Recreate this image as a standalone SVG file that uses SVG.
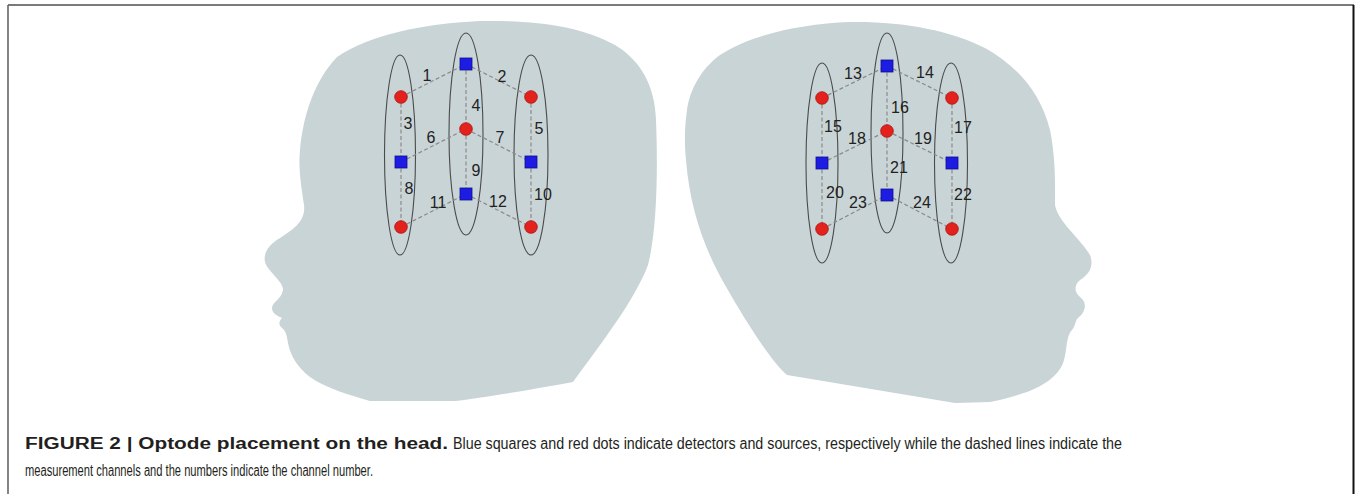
<svg xmlns="http://www.w3.org/2000/svg" width="1357" height="494" viewBox="0 0 1357 494">
  <style>
    .head { fill: #c9d4d6; stroke: none; }
    .band { fill: none; stroke: #4a4a4a; stroke-width: 1.1; }
    .ch { stroke: #8a8a8a; stroke-width: 1.2; stroke-dasharray: 4 2.5; fill: none; }
    .src { fill: #e3221e; stroke: #a81410; stroke-width: 0.8; }
    .det { fill: #1c1ce3; stroke: #10108c; stroke-width: 0.8; }
    .num { font-family: "Liberation Sans", Arial, sans-serif; font-size: 16px; fill: #222; text-anchor: middle; }
    .cap { font-family: "Liberation Sans", Arial, sans-serif; font-size: 16px; fill: #231f20; }
  </style>
  <defs>
    <circle id="s" r="6.3" class="src"/>
    <rect id="d" x="-6" y="-6" width="12" height="12" class="det"/>
  </defs>

  <!-- frame -->
  <g id="frame">
    <line x1="8" y1="5" x2="1354" y2="5" stroke="#7a7a7a" stroke-width="2"/>
    <line x1="8" y1="5" x2="8" y2="494" stroke="#666" stroke-width="1.6"/>
    <line x1="1353.5" y1="5" x2="1353.5" y2="494" stroke="#111" stroke-width="2"/>
  </g>

  <!-- head silhouettes -->
  <g id="head-left">
    <path class="head" d="M 370,401
      C 350,395 325,388 310,377
      C 298,368 290,355 288,343
      C 287,336 286,331 282,328
      C 278,325 279,321 282,318
      C 278,316 272,314 272,308
      C 272,302 281,300 283,290
      C 284,282 268,272 265,262
      C 263,252 270,244 280,238
      C 292,230 306,222 304,205
      C 302,190 298,170 300,150
      C 303,115 315,80 337,57
      C 370,35 420,24 480,21
      C 530,20 580,25 615,45
      C 640,60 655,85 656,120
      C 658,170 657,230 648,265
      C 635,300 600,345 573,382
      C 530,390 480,398 455,401
      Z"/>
  </g>
  <g id="head-right">
    <path class="head" d="M 687,110
      C 690,90 700,70 720,55
      C 750,35 800,24 850,22
      C 900,21 950,30 985,48
      C 1015,65 1040,90 1050,130
      C 1056,160 1055,185 1055,205
      C 1058,222 1080,238 1090,255
      C 1094,265 1090,274 1080,280
      C 1074,285 1074,292 1080,297
      C 1088,303 1085,312 1079,317
      C 1075,320 1076,325 1072,330
      C 1066,336 1067,350 1064,360
      C 1060,375 1045,385 1027,392
      C 1012,397 1000,400 990,402
      L 955,403
      L 787,375
      C 770,360 745,320 725,285
      C 705,250 690,210 686,160
      C 684,140 685,125 687,110 Z"/>
  </g>

  <!-- optode strips -->
  <g id="strips">
    <ellipse class="band" cx="400" cy="155" rx="15.5" ry="100"/>
    <ellipse class="band" cx="466" cy="134" rx="17" ry="101"/>
    <ellipse class="band" cx="531" cy="155" rx="17" ry="100"/>
    <ellipse class="band" cx="822" cy="163" rx="16" ry="100"/>
    <ellipse class="band" cx="887" cy="133" rx="16" ry="100"/>
    <ellipse class="band" cx="951" cy="163" rx="16.5" ry="100"/>
  </g>

  <!-- measurement channels -->
  <g id="connectors">
    <line class="ch" x1="401" y1="97" x2="466" y2="64"/>
    <line class="ch" x1="466" y1="64" x2="531" y2="97"/>
    <line class="ch" x1="401" y1="97" x2="401" y2="162"/>
    <line class="ch" x1="466" y1="64" x2="466" y2="129"/>
    <line class="ch" x1="531" y1="97" x2="531" y2="162"/>
    <line class="ch" x1="401" y1="162" x2="466" y2="129"/>
    <line class="ch" x1="466" y1="129" x2="531" y2="162"/>
    <line class="ch" x1="401" y1="162" x2="401" y2="227"/>
    <line class="ch" x1="466" y1="129" x2="466" y2="194"/>
    <line class="ch" x1="531" y1="162" x2="531" y2="227"/>
    <line class="ch" x1="401" y1="227" x2="466" y2="194"/>
    <line class="ch" x1="466" y1="194" x2="531" y2="227"/>

    <line class="ch" x1="822" y1="98" x2="887" y2="66"/>
    <line class="ch" x1="887" y1="66" x2="952" y2="98"/>
    <line class="ch" x1="822" y1="98" x2="822" y2="163"/>
    <line class="ch" x1="887" y1="66" x2="887" y2="131"/>
    <line class="ch" x1="952" y1="98" x2="952" y2="163"/>
    <line class="ch" x1="822" y1="163" x2="887" y2="131"/>
    <line class="ch" x1="887" y1="131" x2="952" y2="163"/>
    <line class="ch" x1="822" y1="163" x2="822" y2="229"/>
    <line class="ch" x1="887" y1="131" x2="887" y2="195"/>
    <line class="ch" x1="952" y1="163" x2="952" y2="229"/>
    <line class="ch" x1="822" y1="229" x2="887" y2="195"/>
    <line class="ch" x1="887" y1="195" x2="952" y2="229"/>
  </g>

  <!-- sources (red) and detectors (blue), left head -->
  <g id="L-S1"><use href="#s" x="401" y="97"/></g>
  <g id="L-S2"><use href="#s" x="466" y="129"/></g>
  <g id="L-S3"><use href="#s" x="531" y="97"/></g>
  <g id="L-S4"><use href="#s" x="401" y="227"/></g>
  <g id="L-S5"><use href="#s" x="531" y="227"/></g>
  <g id="L-D1"><use href="#d" x="466" y="64"/></g>
  <g id="L-D2"><use href="#d" x="401" y="162"/></g>
  <g id="L-D3"><use href="#d" x="531" y="162"/></g>
  <g id="L-D4"><use href="#d" x="466" y="194"/></g>

  <!-- sources (red) and detectors (blue), right head -->
  <g id="R-S1"><use href="#s" x="822" y="98"/></g>
  <g id="R-S2"><use href="#s" x="887" y="131"/></g>
  <g id="R-S3"><use href="#s" x="952" y="98"/></g>
  <g id="R-S4"><use href="#s" x="822" y="229"/></g>
  <g id="R-S5"><use href="#s" x="952" y="229"/></g>
  <g id="R-D1"><use href="#d" x="887" y="66"/></g>
  <g id="R-D2"><use href="#d" x="822" y="163"/></g>
  <g id="R-D3"><use href="#d" x="952" y="163"/></g>
  <g id="R-D4"><use href="#d" x="887" y="195"/></g>

  <!-- channel numbers -->
  <g id="channel-labels">
    <text class="num" x="427" y="81">1</text>
    <text class="num" x="502" y="82">2</text>
    <text class="num" x="408" y="129">3</text>
    <text class="num" x="476" y="111">4</text>
    <text class="num" x="539" y="134">5</text>
    <text class="num" x="431" y="143">6</text>
    <text class="num" x="500" y="143">7</text>
    <text class="num" x="409" y="194">8</text>
    <text class="num" x="476" y="176">9</text>
    <text class="num" x="543" y="200">10</text>
    <text class="num" x="438" y="208">11</text>
    <text class="num" x="498" y="207">12</text>

    <text class="num" x="853" y="79">13</text>
    <text class="num" x="925" y="78">14</text>
    <text class="num" x="833" y="132">15</text>
    <text class="num" x="900" y="113">16</text>
    <text class="num" x="963" y="133">17</text>
    <text class="num" x="857" y="144">18</text>
    <text class="num" x="923" y="144">19</text>
    <text class="num" x="835" y="198">20</text>
    <text class="num" x="899" y="173">21</text>
    <text class="num" x="963" y="200">22</text>
    <text class="num" x="858" y="208">23</text>
    <text class="num" x="922" y="208">24</text>
  </g>

  <!-- caption -->
  <g id="caption">
    <text class="cap" x="25" y="449" font-weight="bold" textLength="423" lengthAdjust="spacingAndGlyphs">FIGURE 2 | Optode placement on the head.</text>
    <text class="cap" x="453" y="449" textLength="669" lengthAdjust="spacingAndGlyphs">Blue squares and red dots indicate detectors and sources, respectively while the dashed lines indicate the</text>
    <text class="cap" x="25" y="476" textLength="348" lengthAdjust="spacingAndGlyphs">measurement channels and the numbers indicate the channel number.</text>
  </g>
</svg>
